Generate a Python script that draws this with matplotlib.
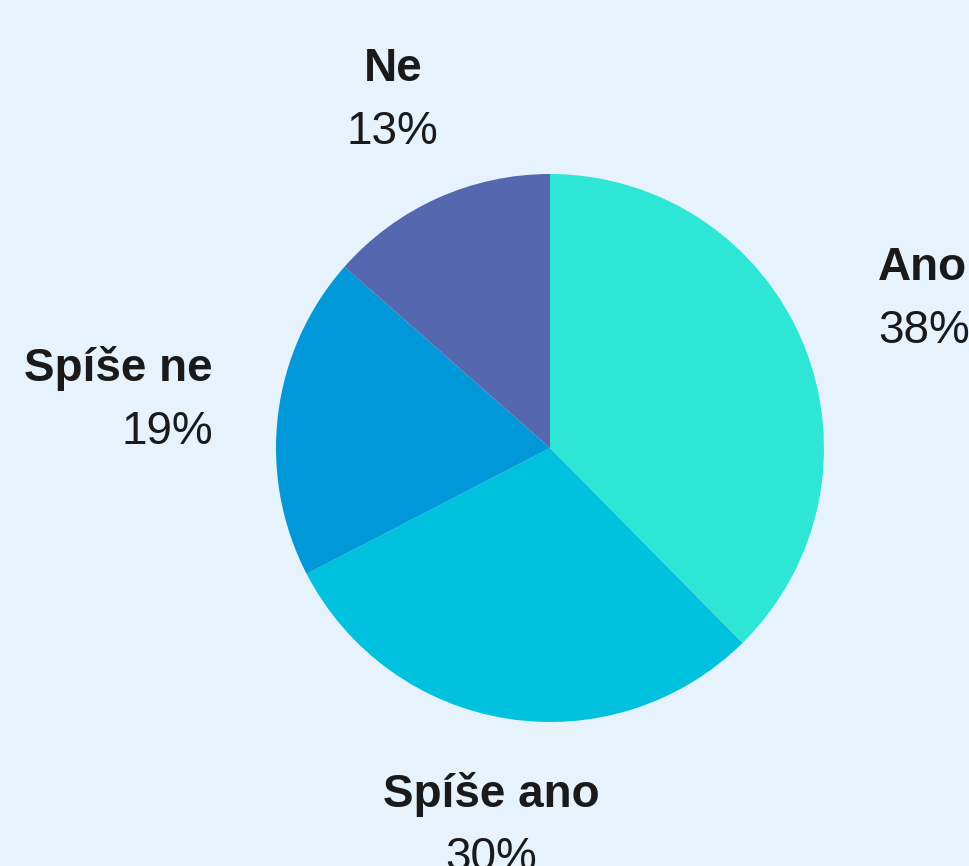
import numpy as np
import matplotlib
matplotlib.use("Agg")
import matplotlib.pyplot as plt

# ---- data ----
categories = ["Ano", "Spíše ano", "Spíše ne", "Ne"]
values = [37.6, 29.8, 19.1, 13.5]
pct_labels = ["38%", "30%", "19%", "13%"]
colors = ["#2EE6D5", "#00C2DF", "#0098D8", "#5467AF"]

# ---- layout (pixel units) ----
W, H = 970, 866
bg = "#E6F3FD"
cx, cy, r = 550, 418, 274
label_r = 1.27 * r
half_block = 31
nudges = {"Ano": (6, 20), "Spíše ano": (-4, 0), "Spíše ne": (8, 9), "Ne": (-14, 3)}

plt.rcParams['font.family'] = ['Liberation Sans', 'DejaVu Sans']

fig = plt.figure(figsize=(W / 100, H / 100), dpi=100, facecolor=bg)
ax = fig.add_axes([0, 0, 1, 1])
ax.set_facecolor(bg)

wedges, _ = ax.pie(values, colors=colors, startangle=90, counterclock=False,
                   center=(cx, cy), radius=r, frame=True,
                   wedgeprops=dict(linewidth=0))
ax.set_xlim(0, W)
ax.set_ylim(0, H)
ax.axis("off")

fs = 33
for w, name, pct in zip(wedges, categories, pct_labels):
    ang = np.deg2rad((w.theta1 + w.theta2) / 2)
    c, s = np.cos(ang), np.sin(ang)
    x = cx + label_r * c
    y = cy + label_r * s
    if c > 0.6:
        ha = "left"
    elif c < -0.6:
        ha = "right"
    else:
        ha = "center"
        y += half_block * np.sign(s)
    dx, dy = nudges[name]
    x += dx
    y += dy
    ax.text(x, y + 15.5, name, ha=ha, va="baseline", fontsize=fs,
            fontweight="bold", color="#1a1a1a")
    ax.text(x, y - 47.5, pct, ha=ha, va="baseline", fontsize=fs,
            color="#1a1a1a")

fig.savefig("out.png", dpi=100, facecolor=bg)
